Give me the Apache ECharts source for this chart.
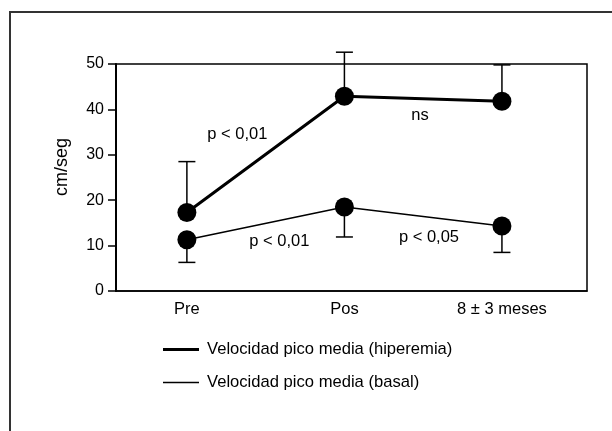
<!DOCTYPE html>
<html><head><meta charset="utf-8">
<script src="https://cdn.jsdelivr.net/npm/echarts@6/dist/echarts.min.js"></script>
<style>html,body{margin:0;padding:0;background:#fff}#c{width:612px;height:431px}</style>
</head><body><div id="c"></div>
<script>
const categories = ['Pre', 'Pos', '8 \u00b1 3 meses'];
const categoryPositions = [1, 2, 3];
const hyperMean = [17.3, 42.9, 41.8];
const hyperUpper = [28.5, 52.6, 49.8];
const basalMean = [11.3, 18.5, 14.3];
const basalLower = [6.3, 11.9, 8.5];
const yTicks = [0, 10, 20, 30, 40, 50];
const annotationText = ['p < 0,01', 'ns', 'p < 0,01', 'p < 0,05'];
const annotationX = [1.32, 2.48, 1.587, 2.537];
const annotationY = [34.4, 38.6, 11.0, 11.7];
const seriesNames = ['Velocidad pico media (hiperemia)', 'Velocidad pico media (basal)'];

const FONT = '"Liberation Sans", Arial, sans-serif';
const TXT = '#000';

const chart = echarts.init(document.getElementById('c'), null, {renderer: 'canvas'});

function errRender(params, api) {
  const x = api.value(0), m = api.value(1), e = api.value(2);
  const p0 = api.coord([x, m]), p1 = api.coord([x, e]);
  const hw = 8.5;
  return {type: 'group', children: [
    {type: 'line', shape: {x1: p0[0], y1: p0[1], x2: p1[0], y2: p1[1]}, style: {stroke: '#000', lineWidth: 1.5}},
    {type: 'line', shape: {x1: p1[0] - hw, y1: p1[1], x2: p1[0] + hw, y2: p1[1]}, style: {stroke: '#000', lineWidth: 1.5}}
  ]};
}

const option = {
  animation: false,
  backgroundColor: '#fff',
  grid: {left: 116, top: 64, right: 25, bottom: 140, show: true, borderColor: '#000', borderWidth: 1.5, backgroundColor: 'transparent'},
  xAxis: {
    type: 'value', min: 0.55, max: 3.54,
    axisLine: {show: true, lineStyle: {color: '#000', width: 1.5}},
    axisTick: {show: false},
    splitLine: {show: false},
    axisLabel: {
      customValues: categoryPositions,
      formatter: v => categories[categoryPositions.indexOf(Math.round(v))] || '',
      fontFamily: FONT, fontSize: 16.5, color: TXT, margin: 10
    }
  },
  yAxis: {
    type: 'value', min: 0, max: 50, interval: 10,
    axisLine: {show: true, lineStyle: {color: '#000', width: 2}},
    axisTick: {show: true, inside: false, length: 8, lineStyle: {color: '#000', width: 1.5}},
    splitLine: {show: false},
    axisLabel: {customValues: yTicks, fontFamily: FONT, fontSize: 16, color: TXT, margin: 12}
  },
  legend: [
    {data: [seriesNames[0]], left: 163, top: 341, padding: 0, icon: 'rect', itemWidth: 36, itemHeight: 3, selectedMode: false,
     textStyle: {fontFamily: FONT, fontSize: 16.6, color: TXT, padding: [0, 0, 0, 3]}},
    {data: [seriesNames[1]], left: 163, top: 374, padding: 0, icon: 'rect', itemWidth: 36, itemHeight: 1.5, selectedMode: false,
     textStyle: {fontFamily: FONT, fontSize: 16.6, color: TXT, padding: [0, 0, 0, 3]}}
  ],
  graphic: [
    {type: 'rect', shape: {x: 10, y: 12, width: 700, height: 600}, style: {fill: 'none', stroke: '#333', lineWidth: 2}, silent: true, z: -10},
    {type: 'text', x: 62, y: 167, rotation: Math.PI / 2,
     style: {text: 'cm/seg', font: '18px "Liberation Sans", Arial, sans-serif', fill: TXT, align: 'center', verticalAlign: 'middle'}}
  ],
  series: [
    {type: 'custom', name: 'errH', renderItem: errRender, clip: false, z: 1, silent: true,
     data: categoryPositions.map((x, i) => [x, hyperMean[i], hyperUpper[i]])},
    {type: 'custom', name: 'errB', renderItem: errRender, clip: false, z: 1, silent: true,
     data: categoryPositions.map((x, i) => [x, basalMean[i], basalLower[i]])},
    {type: 'line', name: seriesNames[0], color: '#000', symbol: 'circle', symbolSize: 19, z: 3,
     lineStyle: {color: '#000', width: 3}, itemStyle: {color: '#000'},
     data: categoryPositions.map((x, i) => [x, hyperMean[i]])},
    {type: 'line', name: seriesNames[1], color: '#000', symbol: 'circle', symbolSize: 19, z: 3,
     lineStyle: {color: '#000', width: 1.5}, itemStyle: {color: '#000'},
     data: categoryPositions.map((x, i) => [x, basalMean[i]])},
    {type: 'scatter', name: 'notes', symbolSize: 0, silent: true, z: 4,
     itemStyle: {opacity: 1, color: '#000'},
     label: {show: true, position: 'inside', formatter: p => p.name, fontFamily: FONT, fontSize: 16.5,
             color: TXT, opacity: 1, textBorderWidth: 0},
     data: annotationText.map((t, i) => ({name: t, value: [annotationX[i], annotationY[i]]}))}
  ]
};
chart.setOption(option);
</script>
</body></html>
